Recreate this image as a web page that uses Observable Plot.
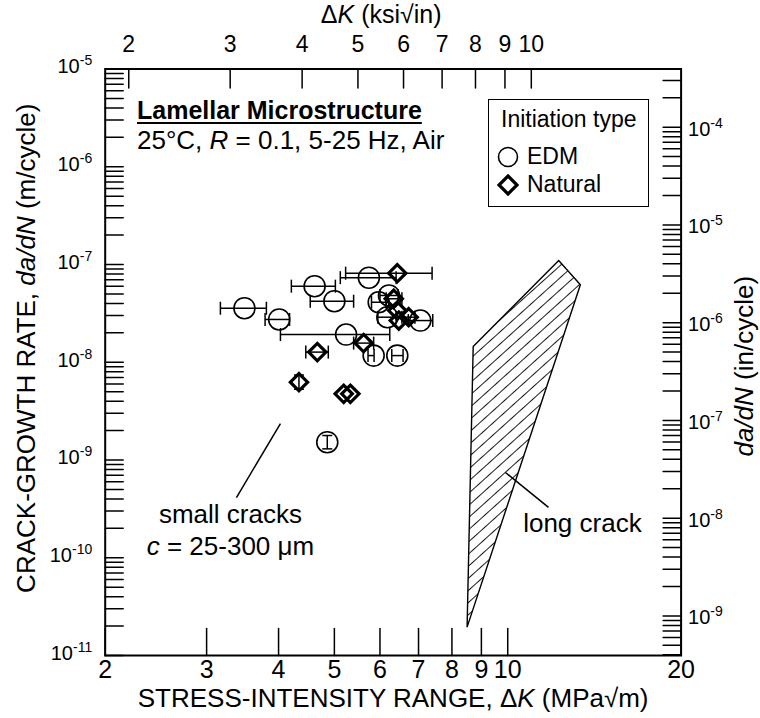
<!DOCTYPE html>
<html><head><meta charset="utf-8">
<script src="https://cdn.jsdelivr.net/npm/d3@7"></script>
<script src="https://cdn.jsdelivr.net/npm/@observablehq/plot@0.6"></script>
<style>
body{margin:0;background:#fff;font-family:"Liberation Sans",Arial,Helvetica,sans-serif;}
#wrap{position:relative;width:760px;height:718px;overflow:hidden;}
#titleblock{position:absolute;left:137px;top:95px;color:#000;font-size:26px;line-height:30px;white-space:nowrap;}
#titleblock .t{font-weight:bold;text-decoration:underline;text-underline-offset:3px;font-size:25px;}
#legend{position:absolute;left:488px;top:99px;width:159px;height:106px;border:1.6px solid #000;background:#fff;font-size:23px;color:#000;}
#legend .h{position:absolute;left:12px;top:6px;white-space:nowrap;}
#legend .row{position:absolute;left:8px;white-space:nowrap;display:flex;align-items:center;}
#legend svg{margin-right:8px;}
</style></head><body><div id="wrap"></div>
<script>
// ---- data (ΔK in MPa√m, da/dN in m/cycle) ----
const edmDK   = [3.49, 4.01, 4.62, 5.00, 5.74, 5.24, 5.97, 6.22, 6.18, 7.05, 5.85, 6.43, 4.86];
const edmRate = [3.57e-8, 2.74e-8, 6.0e-8, 4.21e-8, 7.33e-8, 1.92e-8, 4.11e-8, 4.82e-8, 2.89e-8, 2.67e-8, 1.17e-8, 1.17e-8, 1.52e-9];
const edmDKLo = [3.17, 3.79, 4.21, 4.54, 5.12, 4.03, 5.80, 6.00, 5.95, 6.72, 5.72, 6.29, null];
const edmDKHi = [3.81, 4.18, 5.02, 5.40, 6.40, 6.24, 6.15, 6.45, 6.40, 7.41, 5.86, 6.58, null];
const edmRateLo = [null, null, null, null, null, null, null, null, null, null, null, null, 1.30e-9];
const edmRateHi = [null, null, null, null, null, null, null, null, null, null, null, null, 1.78e-9];

const natDK   = [6.43, 5.62, 4.67, 4.34, 5.19, 5.33, 6.34, 6.43, 6.47, 6.73];
const natRate = [8.15e-8, 1.57e-8, 1.27e-8, 6.25e-9, 4.75e-9, 4.75e-9, 4.46e-8, 3.38e-8, 2.67e-8, 2.89e-8];
const natDKLo = [5.23, 5.40, 4.46, null, null, null, 6.15, null, null, 6.55];
const natDKHi = [7.39, 5.85, 4.88, null, null, null, 6.55, null, null, 6.90];
const natRateLo = [null, null, null, 5.3e-9, null, null, null, null, null, null];
const natRateHi = [null, null, null, 7.4e-9, null, null, null, null, null, null];

// long-crack scatter band (polygon vertices)
const bandDK   = [12.26, 13.37, 8.50, 8.71, 12.26];
const bandRate = [1.10e-7, 6.2e-8, 1.95e-11, 1.45e-8, 1.10e-7];

// axis ticks
const xTicks = [2, 3, 4, 5, 6, 7, 8, 9, 10, 20];
const ksiTicks = [2, 3, 4, 5, 6, 7, 8, 9, 10];
const yDecades = [1e-11, 1e-10, 1e-9, 1e-8, 1e-7, 1e-6, 1e-5];
const inDecades = [1e-9, 1e-8, 1e-7, 1e-6, 1e-5, 1e-4];
const KSI_TO_MPA = 1.0988;
const IN_TO_M = 0.0254;

// annotations
const annoText = ["small cracks", "*c* = 25-300 μm", "long crack"];
const annoDK   = [3.30, 3.30, 13.48];
const annoRate = [2.77e-10, 1.30e-10, 2.25e-10];
const leaderX1 = [4.03, 9.91];
const leaderY1 = [2.36e-9, 7.45e-10];
const leaderX2 = [3.38, 11.77];
const leaderY2 = [4.13e-10, 3.27e-10];

// ---- derived tables ----
const minorTicks = (lo, hi) => {
  const out = [];
  for (let k = -12; k <= -3; k++) for (let m = 1; m <= 9; m++) {
    const v = m * Math.pow(10, k);
    if (v >= lo * 0.9999 && v <= hi * 1.0001) out.push(v);
  }
  return out;
};
const yTicksLeft = minorTicks(1e-11, 1e-5);
const yTicksRight = minorTicks(1e-11 / IN_TO_M, 1e-5 / IN_TO_M).map(v => v * IN_TO_M);

const edm = edmDK.map((x, i) => ({x, y: edmRate[i], xlo: edmDKLo[i], xhi: edmDKHi[i], ylo: edmRateLo[i], yhi: edmRateHi[i]}));
const nat = natDK.map((x, i) => ({x, y: natRate[i], xlo: natDKLo[i], xhi: natDKHi[i], ylo: natRateLo[i], yhi: natRateHi[i]}));
const all = edm.concat(nat);
const xBars = all.filter(d => d.xlo != null);
const yBars = all.filter(d => d.ylo != null);
const band = bandDK.map((x, i) => ({x, y: bandRate[i]}));
const annos = annoText.map((t, i) => ({t, x: annoDK[i], y: annoRate[i]}));
const leaders = leaderX1.map((x1, i) => ({x1, y1: leaderY1[i], x2: leaderX2[i], y2: leaderY2[i]}));

const lineShape = {draw(ctx, l) { ctx.moveTo(0, 0); ctx.lineTo(0, -l); }};
const vCap = {draw(ctx) { ctx.moveTo(0, -6.5); ctx.lineTo(0, 6.5); }};
const hCap = {draw(ctx) { ctx.moveTo(-5, 0); ctx.lineTo(5, 0); }};
const expLabel = v => "10^" + Math.round(Math.log10(v));
const T = {fill: "black", lineAnchor: "middle"};

const svg = Plot.plot({
  width: 760, height: 718,
  marginTop: 68.5, marginRight: 79.4, marginBottom: 63, marginLeft: 104.7,
  style: {fontFamily: '"Liberation Sans", Arial, Helvetica, sans-serif', background: "white", color: "black", overflow: "visible"},
  x: {type: "log", domain: [2, 20], axis: null},
  y: {type: "log", domain: [1e-11, 1e-5], axis: null},
  marks: [
    // long-crack band
    Plot.line(band, {x: "x", y: "y", fill: "url(#hatch)", stroke: "black", strokeWidth: 1.4, strokeLinejoin: "miter"}),
    // leaders
    Plot.link(leaders, {x1: "x1", y1: "y1", x2: "x2", y2: "y2", stroke: "black", strokeWidth: 1.5}),
    // error bars
    Plot.link(xBars, {x1: "xlo", x2: "xhi", y1: "y", y2: "y", stroke: "black", strokeWidth: 1.5}),
    Plot.dot(xBars, {x: "xlo", y: "y", symbol: vCap, stroke: "black", fill: "none", strokeWidth: 1.5}),
    Plot.dot(xBars, {x: "xhi", y: "y", symbol: vCap, stroke: "black", fill: "none", strokeWidth: 1.5}),
    Plot.link(yBars, {x1: "x", x2: "x", y1: "ylo", y2: "yhi", stroke: "black", strokeWidth: 1.5}),
    Plot.dot(yBars, {x: "x", y: "ylo", symbol: hCap, stroke: "black", fill: "none", strokeWidth: 1.5}),
    Plot.dot(yBars, {x: "x", y: "yhi", symbol: hCap, stroke: "black", fill: "none", strokeWidth: 1.5}),
    // points
    Plot.dot(edm, {x: "x", y: "y", symbol: "circle", r: 10.5, stroke: "black", fill: "none", strokeWidth: 1.6}),
    Plot.dot(nat, {x: "x", y: "y", symbol: "diamond2", r: 7.8, stroke: "black", fill: "none", strokeWidth: 3.2, strokeLinejoin: "miter"}),
    // annotations
    Plot.text(annos, {x: "x", y: "y", text: "t", fontSize: 26, ...T}),
    // bottom axis
    Plot.vector(xTicks, {x: d => d, frameAnchor: "bottom", length: 27, rotate: 0, anchor: "start", shape: lineShape, stroke: "black", strokeWidth: 1.5}),
    Plot.text(xTicks, {x: d => d, frameAnchor: "bottom", text: d => String(d), dy: 14, fontSize: 25, ...T}),
    Plot.text(["STRESS-INTENSITY RANGE, Δ*K* (MPa√m)"], {frameAnchor: "bottom", text: d => d, textAnchor: "middle", dy: 43, fontSize: 26, ...T}),
    // top axis (ksi√in)
    Plot.vector(ksiTicks, {x: d => d * KSI_TO_MPA, frameAnchor: "top", length: 19, rotate: 180, anchor: "start", shape: lineShape, stroke: "black", strokeWidth: 1.5}),
    Plot.text(ksiTicks, {x: d => d * KSI_TO_MPA, frameAnchor: "top", text: d => String(d), dy: -24, fontSize: 23, ...T}),
    Plot.text(["Δ*K* (ksi√in)"], {frameAnchor: "top", text: d => d, textAnchor: "middle", dy: -54, dx: -12, fontSize: 25, ...T}),
    // left axis (m/cycle)
    Plot.vector(yTicksLeft, {y: d => d, frameAnchor: "left", length: 18, rotate: 90, anchor: "start", shape: lineShape, stroke: "black", strokeWidth: 1.5}),
    Plot.text(yDecades, {y: d => d, frameAnchor: "left", text: expLabel, textAnchor: "end", dx: -13, dy: -2, fontSize: 20, ...T}),
    Plot.text(["CRACK-GROWTH RATE, *da/dN* (m/cycle)"], {frameAnchor: "left", text: d => d, textAnchor: "middle", rotate: -90, dx: -79, dy: -14, fontSize: 26, ...T}),
    // right axis (in/cycle)
    Plot.vector(yTicksRight, {y: d => d, frameAnchor: "right", length: 18, rotate: 270, anchor: "start", shape: lineShape, stroke: "black", strokeWidth: 1.5}),
    Plot.text(inDecades, {y: d => d * IN_TO_M, frameAnchor: "right", text: expLabel, textAnchor: "start", dx: 7, dy: 2, fontSize: 20, ...T}),
    Plot.text(["*da/dN* (in/cycle)"], {frameAnchor: "right", text: d => d, textAnchor: "middle", rotate: -90, dx: 64, dy: 4, fontSize: 26, ...T}),
    Plot.frame({stroke: "black", strokeWidth: 2})
  ]
});

// hatch pattern
const ns = "http://www.w3.org/2000/svg";
const defs = document.createElementNS(ns, "defs");
defs.innerHTML = '<pattern id="hatch" patternUnits="userSpaceOnUse" width="9" height="9" patternTransform="rotate(-42)"><line x1="0" y1="4.5" x2="9" y2="4.5" stroke="black" stroke-width="0.9"/></pattern>';
svg.insertBefore(defs, svg.firstChild);

// rich text: *italic* and ^superscript
svg.querySelectorAll("text").forEach(t => {
  const s = t.textContent;
  if (!/[\*\^]/.test(s)) return;
  t.textContent = "";
  const parts = s.split(/(\*[^*]+\*|\^.+$)/).filter(p => p !== "");
  for (const p of parts) {
    const ts = document.createElementNS(ns, "tspan");
    if (p.startsWith("*")) { ts.setAttribute("font-style", "italic"); ts.textContent = p.slice(1, -1); }
    else if (p.startsWith("^")) { ts.setAttribute("font-size", "14"); ts.setAttribute("dy", "-8"); ts.textContent = p.slice(1); }
    else ts.textContent = p;
    t.appendChild(ts);
  }
});

const wrap = document.getElementById("wrap");
wrap.appendChild(svg);

// title block
const tb = document.createElement("div");
tb.id = "titleblock";
tb.innerHTML = '<div class="t">Lamellar Microstructure</div><div>25°C, <i>R</i> = 0.1, 5-25 Hz, Air</div>';
wrap.appendChild(tb);

// legend
const lg = document.createElement("div");
lg.id = "legend";
lg.innerHTML = '<div class="h">Initiation type</div>' +
  '<div class="row" style="top:43px"><svg width="22" height="22"><circle cx="11" cy="11" r="9.5" fill="none" stroke="black" stroke-width="1.6"/></svg>EDM</div>' +
  '<div class="row" style="top:71px"><svg width="22" height="22"><path d="M11 2 L20 11 L11 20 L2 11 Z" fill="none" stroke="black" stroke-width="3.2"/></svg>Natural</div>';
wrap.appendChild(lg);
</script></body></html>
